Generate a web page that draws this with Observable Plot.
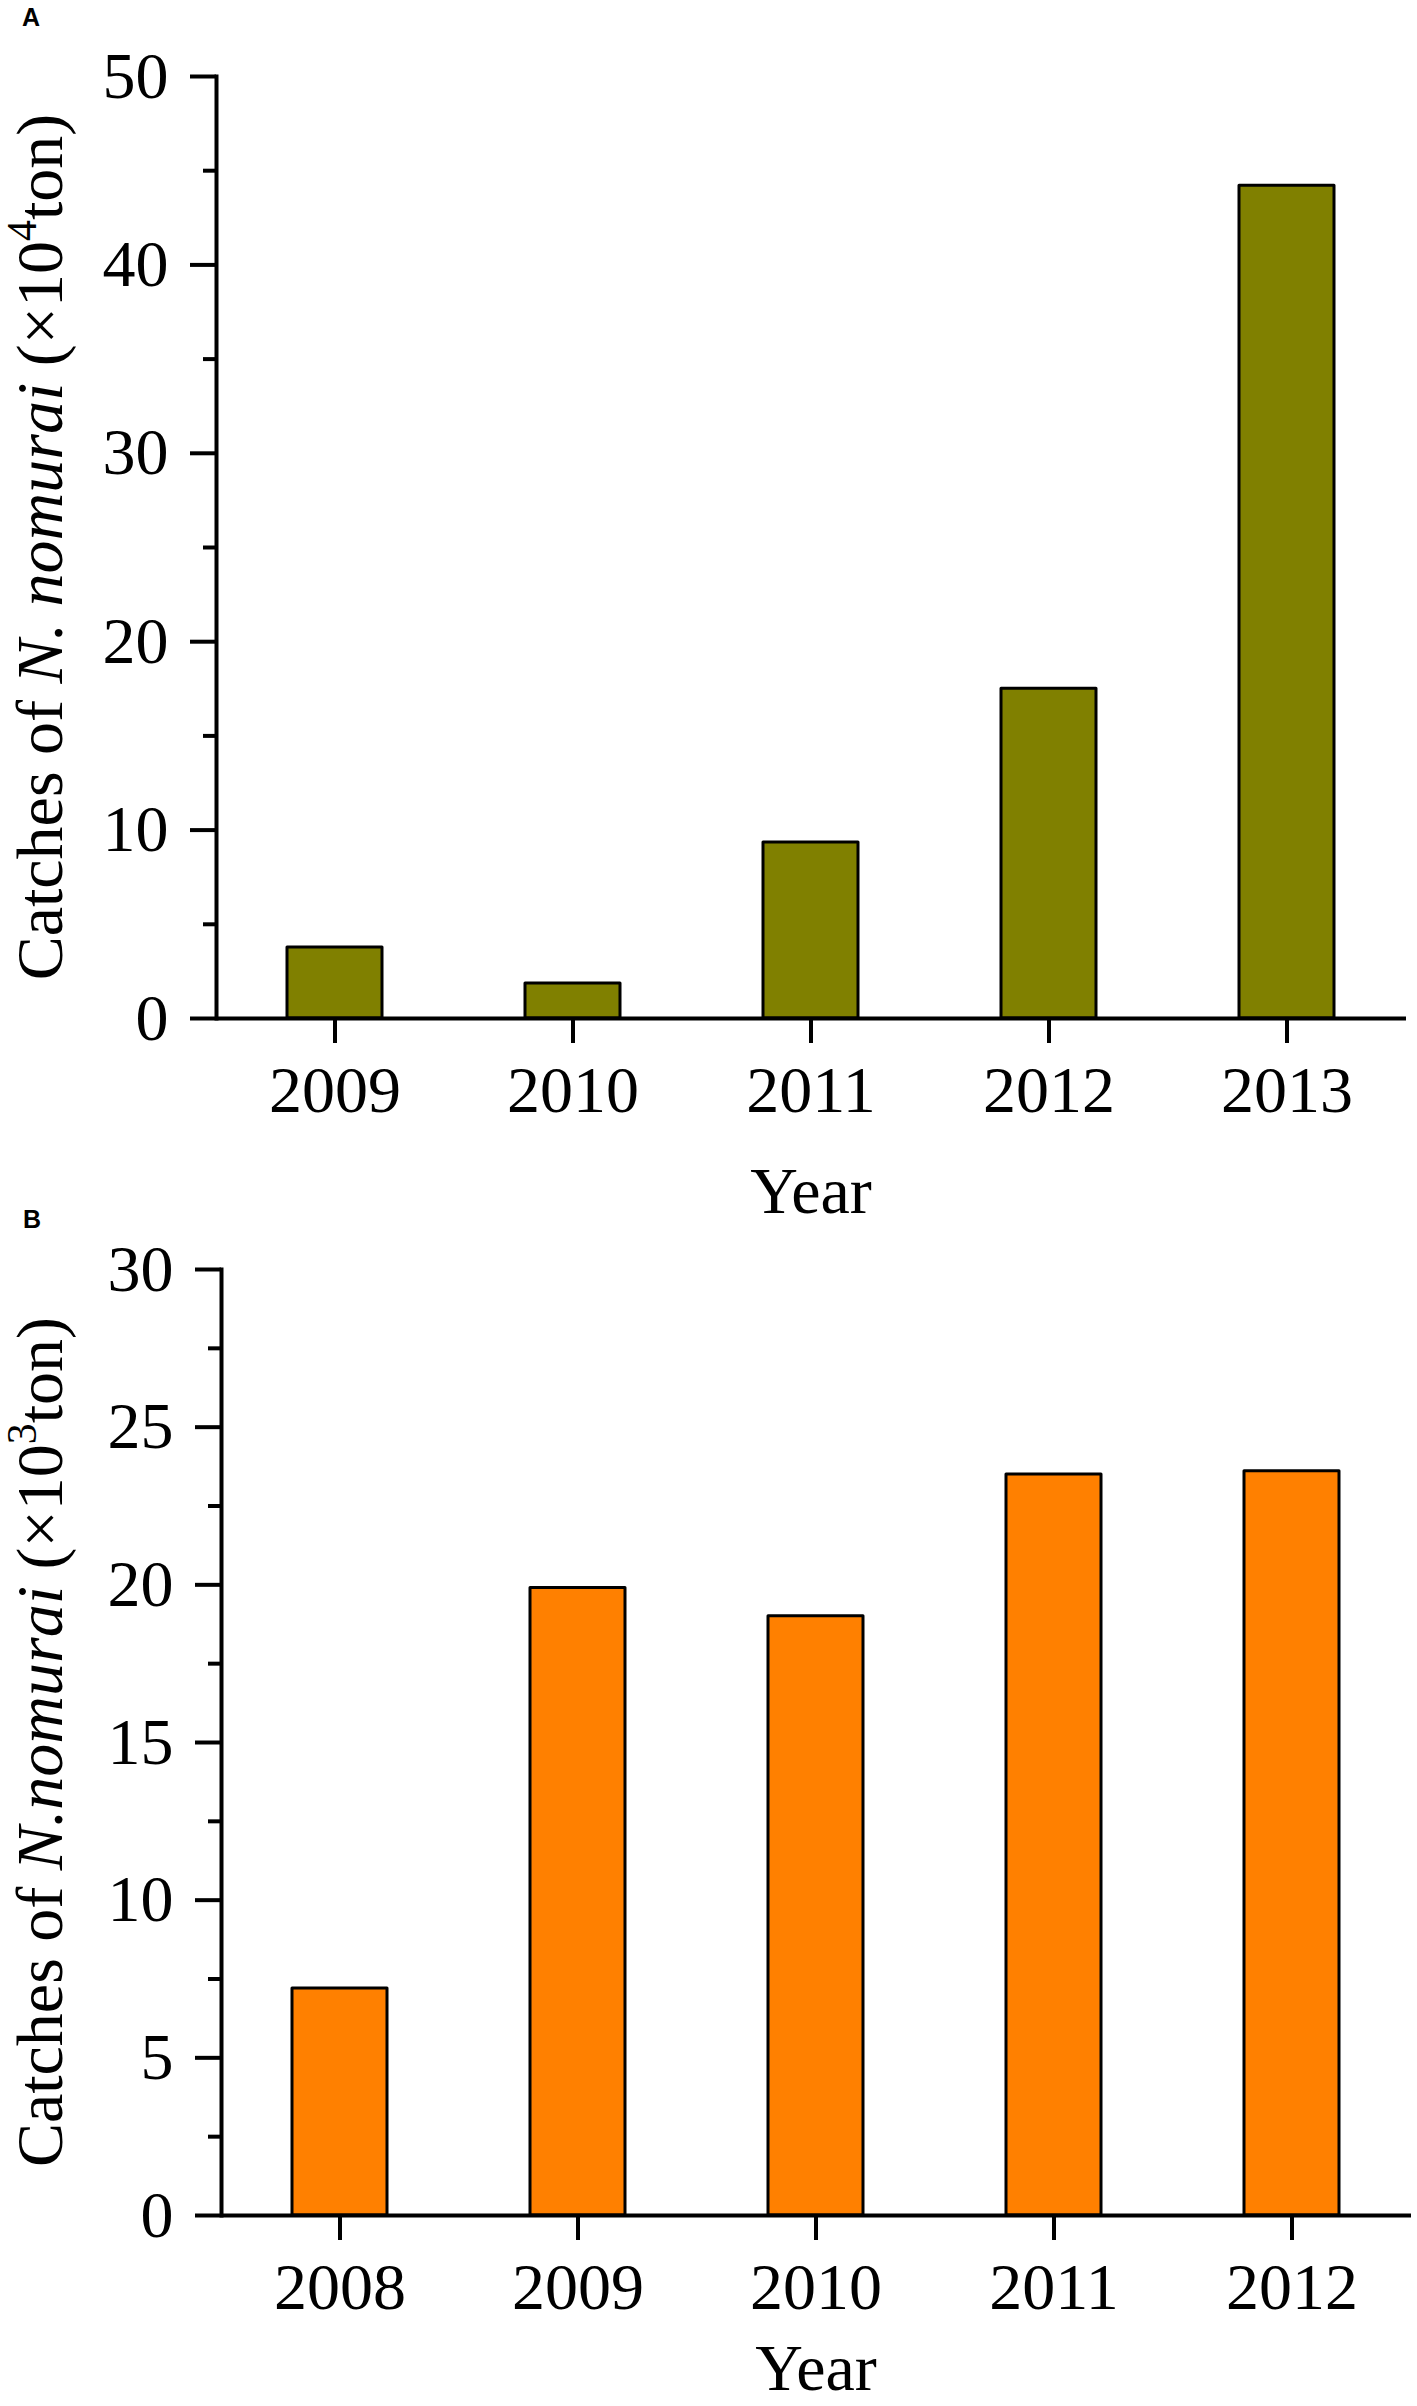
<!DOCTYPE html>
<html>
<head>
<meta charset="utf-8">
<script src="https://cdn.jsdelivr.net/npm/d3@7"></script>
<script src="https://cdn.jsdelivr.net/npm/@observablehq/plot@0.6"></script>
<style>
  html, body { margin: 0; padding: 0; background: #fff; }
  #wrap { position: relative; width: 1417px; height: 2406px; overflow: hidden; }
  .panel-letter { position: absolute; font-family: "Liberation Sans", Arial, sans-serif; font-weight: bold; font-size: 25px; color: #000; }
  svg { display: block; }
</style>
</head>
<body>
<div id="wrap"></div>
<script>
// Panel A data
const yearsA = ["2009", "2010", "2011", "2012", "2013"];
const catchesA = [3.77, 1.86, 9.34, 17.5, 44.2];
const majorTicksA = [0, 10, 20, 30, 40, 50];
const minorTicksA = [5, 15, 25, 35, 45];

// Panel B data
const yearsB = ["2008", "2009", "2010", "2011", "2012"];
const catchesB = [7.2, 19.9, 19.0, 23.5, 23.6];
const majorTicksB = [0, 5, 10, 15, 20, 25, 30];
const minorTicksB = [2.5, 7.5, 12.5, 17.5, 22.5, 27.5];

const wrap = document.getElementById("wrap");
const FONT = '"Liberation Serif", "Times New Roman", serif';

function panel({years, values, fill, domain, major, minor, height, marginTop, marginBottom, marginLeft, marginRight, unitPow, nameText, yearOffset}) {
  const data = years.map((y, i) => ({year: y, value: values[i]}));
  const svg = Plot.plot({
    width: 1417,
    height,
    marginTop, marginBottom, marginLeft, marginRight,
    style: {fontFamily: FONT, fontSize: "66px", background: "white", color: "black", overflow: "visible"},
    x: {type: "band", domain: years, paddingInner: 0.6, paddingOuter: 0.3},
    y: {domain},
    marks: [
      Plot.barY(data, {x: "year", y: "value", fill, stroke: "#000", strokeWidth: 3, strokeLinejoin: "round"}),
      Plot.ruleY([0], {stroke: "#000", strokeWidth: 4}),
      Plot.frame({anchor: "left", stroke: "#000", strokeWidth: 4}),
      Plot.axisY({ticks: major, tickSize: 26, tickPadding: 22, strokeWidth: 4, label: null, tickFormat: d => String(d)}),
      Plot.axisY({ticks: minor, tickSize: 13, strokeWidth: 4, text: null, label: null}),
      Plot.axisX({tickSize: 25, tickPadding: 22, strokeWidth: 4, label: null})
    ]
  });
  const s = d3.select(svg);
  const cx = marginLeft + (1417 - marginLeft - marginRight) / 2;
  const plotBottom = height - marginBottom;
  const cy = marginTop + (plotBottom - marginTop) / 2;
  // x axis title
  s.append("text")
    .attr("x", cx).attr("y", plotBottom + yearOffset)
    .attr("text-anchor", "middle")
    .attr("font-family", FONT).attr("font-size", 66).attr("fill", "#000")
    .text("Year");
  // y axis title with italic species name and superscript
  const t = s.append("text")
    .attr("transform", `translate(62,${cy}) rotate(-90)`)
    .attr("text-anchor", "middle")
    .attr("font-family", FONT).attr("font-size", 66).attr("fill", "#000");
  t.append("tspan").text("Catches of ");
  t.append("tspan").attr("font-style", "italic").text(nameText);
  t.append("tspan").text(" (\u00d710");
  t.append("tspan").attr("font-size", 42).attr("dy", -26).text(unitPow);
  t.append("tspan").attr("dy", 26).text("ton)");
  return svg;
}

const svgA = panel({
  years: yearsA, values: catchesA, fill: "#808000", domain: [0, 50],
  major: majorTicksA, minor: minorTicksA,
  height: 1230, marginTop: 76, marginBottom: 212, marginLeft: 216, marginRight: 11,
  unitPow: "4", nameText: "N. nomurai", yearOffset: 195
});
const svgB = panel({
  years: yearsB, values: catchesB, fill: "#FF8000", domain: [0, 30],
  major: majorTicksB, minor: minorTicksB,
  height: 1176, marginTop: 39, marginBottom: 191, marginLeft: 221, marginRight: 6,
  unitPow: "3", nameText: "N.nomurai", yearOffset: 175
});
wrap.appendChild(svgA);
wrap.appendChild(svgB);

const la = document.createElement("div");
la.className = "panel-letter"; la.textContent = "A";
la.style.left = "22px"; la.style.top = "3px";
wrap.appendChild(la);
const lb = document.createElement("div");
lb.className = "panel-letter"; lb.textContent = "B";
lb.style.left = "23px"; lb.style.top = "1205px";
wrap.appendChild(lb);
</script>
</body>
</html>
